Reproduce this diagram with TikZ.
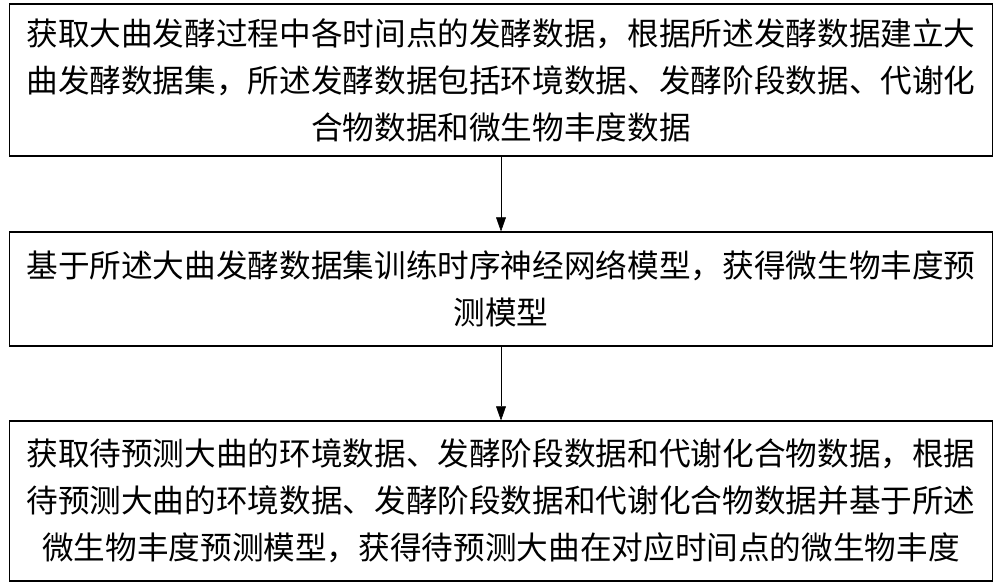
\documentclass[tikz,border=0pt]{standalone}
\usepackage{fontspec}
\setmainfont{Noto Sans CJK SC}
\usetikzlibrary{arrows.meta}
\tikzset{
  stepbox/.style={draw,thick,minimum width=24.55cm,align=center,inner sep=0pt,
    font=\fontsize{22.5}{33.4}\selectfont},
  flow/.style={-{Triangle[length=10pt,width=7pt]}}
}
\begin{document}
\begin{tikzpicture}[x=0.025cm,y=-0.025cm]
  \useasboundingbox (0,0) rectangle (1000,584);
  \node[stepbox,minimum height=3.8cm] (collect) at (501,80)
    {获取大曲发酵过程中各时间点的发酵数据，根据所述发酵数据建立大\\
     曲发酵数据集，所述发酵数据包括环境数据、发酵阶段数据、代谢化\\
     合物数据和微生物丰度数据};
  \node[stepbox,minimum height=2.85cm] (train) at (501,289)
    {基于所述大曲发酵数据集训练时序神经网络模型，获得微生物丰度预\\
     测模型};
  \node[stepbox,minimum height=4.0cm] (predict) at (501,501)
    {获取待预测大曲的环境数据、发酵阶段数据和代谢化合物数据，根据\\
     待预测大曲的环境数据、发酵阶段数据和代谢化合物数据并基于所述\\
     微生物丰度预测模型，获得待预测大曲在对应时间点的微生物丰度};
  \draw[flow] (collect) -- (train);
  \draw[flow] (train) -- (predict);
\end{tikzpicture}
\end{document}
